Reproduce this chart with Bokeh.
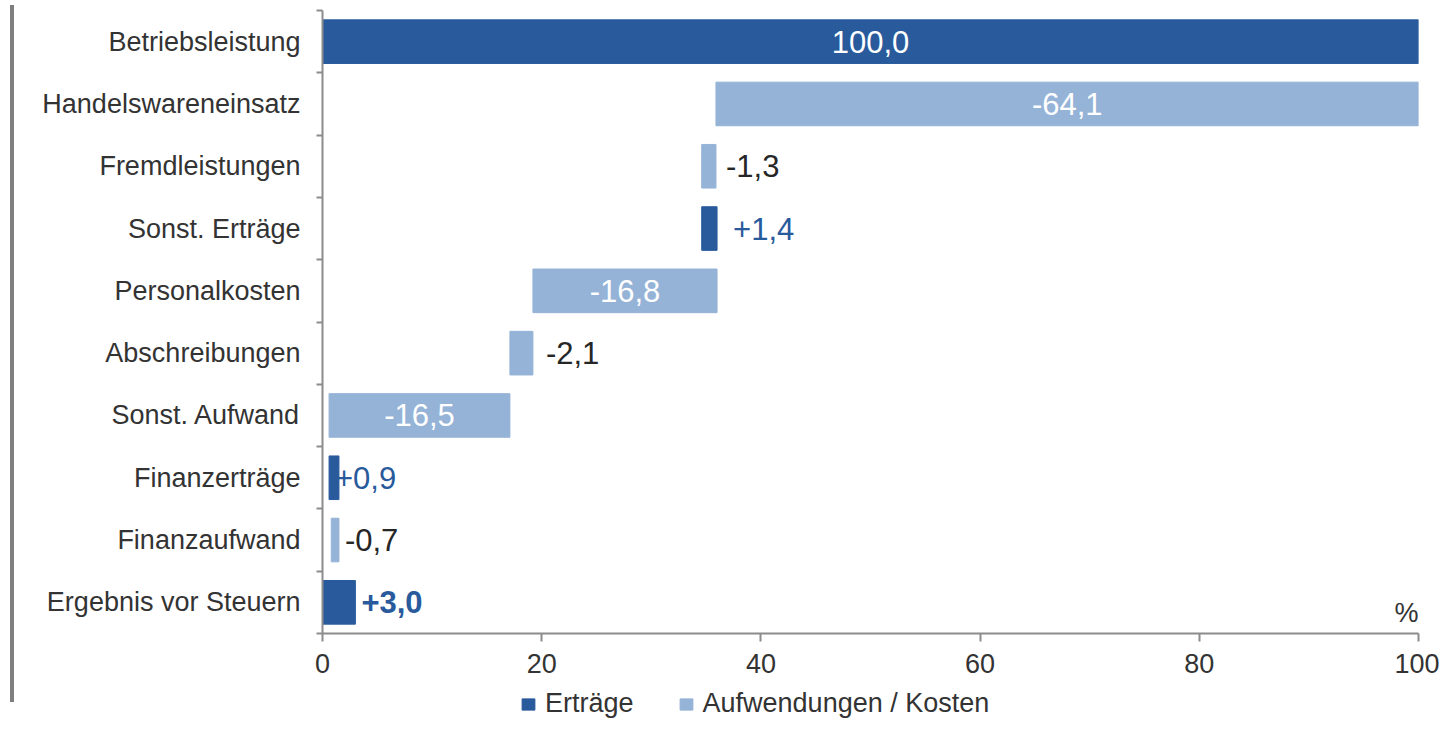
from bokeh.plotting import figure
from bokeh.models import (Range1d, FixedTicker, Legend, LegendItem, Label,
                          ColumnDataSource, Div)
from bokeh.layouts import row, column
from bokeh.core.properties import value
from bokeh.embed import file_html
from bokeh.resources import INLINE

# ---------------- data ----------------
categories = ["Betriebsleistung", "Handelswareneinsatz", "Fremdleistungen",
              "Sonst. Erträge", "Personalkosten", "Abschreibungen",
              "Sonst. Aufwand", "Finanzerträge", "Finanzaufwand",
              "Ergebnis vor Steuern"]
values = [100.0, -64.1, -1.3, 1.4, -16.8, -2.1, -16.5, 0.9, -0.7, 3.0]
kinds = ["total", "delta", "delta", "delta", "delta", "delta", "delta",
         "delta", "delta", "total"]
x_ticks = [0, 20, 40, 60, 80, 100]
series_names = ["Erträge", "Aufwendungen / Kosten"]

# ---------------- style ----------------
FONT = "Liberation Sans"
DARK = "#285A9C"
LIGHT = "#95B3D7"
TEXT = "#333333"
AXIS = "#8C8C8C"
label_offsets = [0, 0, 10, 16, 0, 13, 0, -4, 6, 6]   # px right of bar end

n = len(categories)
centers = [2 * (n - i) - 1 for i in range(n)]

lefts, rights = [], []
total = 0.0
for v, k in zip(values, kinds):
    if k == "total":
        lo, hi = 0.0, v
        total = v
    else:
        start, end = total, total + v
        lo, hi = min(start, end), max(start, end)
        total = end
    lefts.append(lo)
    rights.append(hi)


def fmt(v, k):
    s = f"{abs(v):.1f}".replace(".", ",")
    if v < 0:
        return "-" + s
    if k == "total" and v >= 100:
        return s
    return "+" + s


pos = dict(y=[], left=[], right=[])
neg = dict(y=[], left=[], right=[])
for i in range(n):
    d = pos if values[i] > 0 else neg
    d["y"].append(centers[i])
    d["left"].append(lefts[i])
    d["right"].append(rights[i])

LINE_X, LINE_W = 10, 4
FRAME_LEFT = 322
W = 1439 - LINE_X - LINE_W
H_MAIN, H_LEG = 688, 31

p = figure(width=W, height=H_MAIN, output_backend="svg", toolbar_location=None,
           x_range=Range1d(0, 100), y_range=Range1d(0, 2 * n),
           min_border_left=FRAME_LEFT - LINE_X - LINE_W, min_border_right=21,
           min_border_top=10, min_border_bottom=55)
p.outline_line_color = None
p.xgrid.visible = False
p.ygrid.visible = False
p.background_fill_color = "white"
p.border_fill_color = "white"

src_pos = ColumnDataSource(pos)
src_neg = ColumnDataSource(neg)
p.hbar(y="y", left="left", right="right", height=1.4, color=DARK, source=src_pos)
p.hbar(y="y", left="left", right="right", height=1.4, color=LIGHT, source=src_neg)

# value labels
lab = dict(x=[], y=[], text=[], color=[], align=[], off=[], style=[])
for i in range(n):
    v = values[i]
    inside = abs(v) >= 10
    lab["y"].append(centers[i])
    lab["text"].append(fmt(v, kinds[i]))
    if inside:
        lab["x"].append((lefts[i] + rights[i]) / 2)
        lab["color"].append("white")
        lab["align"].append("center")
        lab["off"].append(0)
    else:
        lab["x"].append(rights[i])
        lab["color"].append(DARK if v > 0 else "#262626")
        lab["align"].append("left")
        lab["off"].append(label_offsets[i])
    lab["style"].append("bold" if (kinds[i] == "total" and i == n - 1) else "normal")

p.text(x="x", y="y", text="text", text_color="color", text_align="align",
       x_offset="off", text_font_style="style", text_baseline="middle",
       text_font=value(FONT), text_font_size="31px",
       source=ColumnDataSource(lab))

# y axis
ya = p.yaxis[0]
ya.ticker = FixedTicker(ticks=centers, minor_ticks=list(range(0, 2 * n + 1, 2)))
ya.major_label_overrides = {c: name for c, name in zip(centers, categories)}
ya.axis_line_color = AXIS
ya.axis_line_width = 2
ya.major_tick_line_color = None
ya.major_tick_out = 0
ya.major_tick_in = 0
ya.minor_tick_line_color = AXIS
ya.minor_tick_line_width = 2
ya.minor_tick_out = 6
ya.minor_tick_in = 0
ya.major_label_standoff = 16
ya.major_label_text_font = FONT
ya.major_label_text_font_size = "27px"
ya.major_label_text_color = TEXT

# x axis
xa = p.xaxis[0]
xa.ticker = FixedTicker(ticks=x_ticks)
xa.axis_line_color = AXIS
xa.axis_line_width = 2
xa.major_tick_line_color = AXIS
xa.major_tick_line_width = 2
xa.major_tick_out = 8
xa.major_tick_in = 0
xa.minor_tick_line_color = None
xa.major_label_standoff = 12
xa.major_label_text_font = FONT
xa.major_label_text_font_size = "27px"
xa.major_label_text_color = TEXT

p.add_layout(Label(x=100, y=0, text="%", text_align="right",
                   text_baseline="bottom", y_offset=6, text_font=FONT,
                   text_font_size="27px", text_color=TEXT))

# legend strip below the chart (its ranges keep the bars out of view)
lf = figure(width=W, height=H_LEG, output_backend="svg", toolbar_location=None,
            x_range=Range1d(1000, 1001), y_range=Range1d(1000, 1001),
            x_axis_location=None, y_axis_location=None,
            min_border_left=0, min_border_right=0, min_border_top=0,
            min_border_bottom=0)
lf.outline_line_color = None
lf.xgrid.visible = False
lf.ygrid.visible = False
lr_pos = lf.hbar(y="y", left="left", right="right", height=1.4, color=DARK,
                 source=src_pos)
lr_neg = lf.hbar(y="y", left="left", right="right", height=1.4, color=LIGHT,
                 source=src_neg)
legend = Legend(items=[LegendItem(label=series_names[0], renderers=[lr_pos]),
                       LegendItem(label=series_names[1], renderers=[lr_neg])],
                location=(520 - FRAME_LEFT, 0), orientation="horizontal",
                padding=0, margin=0, border_line_color=None,
                background_fill_alpha=0, glyph_width=16, glyph_height=14,
                label_standoff=9, spacing=44, label_text_font=FONT,
                label_text_font_size="27px", label_text_color=TEXT)
lf.add_layout(legend)

# left decorative line
line = Div(text=f'<div style="width:{LINE_W}px;height:697px;background:#7F7F7F"></div>',
           width=LINE_W, height=697, margin=(5, 0, 0, LINE_X))

layout = row(line, column(p, lf, spacing=0), spacing=0)
open("out.html", "w").write(file_html(layout, INLINE))
